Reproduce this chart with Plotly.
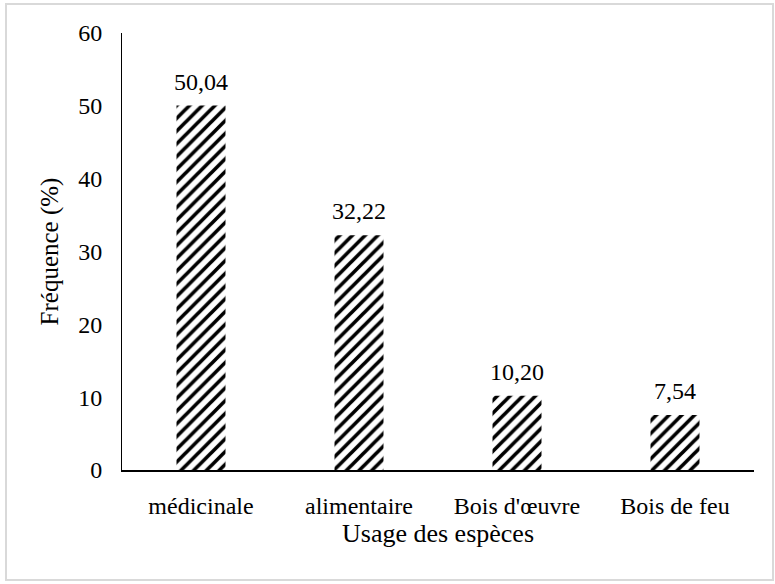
import plotly.graph_objects as go

categories = ["médicinale", "alimentaire", "Bois d'œuvre", "Bois de feu"]
frequences = [50.04, 32.22, 10.20, 7.54]
y_ticks = [0, 10, 20, 30, 40, 50, 60]

W, H = 775, 584
L, R, T, B = 122, 21, 33, 114
pw, ph = W - L - R, H - T - B

serif = "Liberation Serif"

fig = go.Figure(
    go.Bar(
        x=categories,
        y=frequences,
        width=0.31,
        marker=dict(
            color="white",
            line=dict(width=0),
            pattern=dict(shape="/", fgcolor="black", bgcolor="white",
                         fgopacity=1, size=9, solidity=0.4),
        ),
        hoverinfo="skip",
    )
)

# value labels above each bar
for c, v in zip(categories, frequences):
    fig.add_annotation(
        x=c, y=v, text=f"{v:.2f}".replace(".", ","),
        showarrow=False, yanchor="bottom", yshift=9,
        font=dict(family=serif, size=24, color="black"),
    )

# light frame around the whole figure
fig.add_shape(
    type="rect", xref="paper", yref="paper",
    x0=(6 - L) / pw, x1=(773 - L) / pw,
    y0=(H - B - 580) / ph, y1=(H - B - 4) / ph,
    line=dict(color="#d9d9d9", width=2), layer="below",
)

fig.update_layout(
    width=W, height=H,
    margin=dict(l=L, r=R, t=T, b=B),
    paper_bgcolor="white", plot_bgcolor="white",
    showlegend=False,
    font=dict(family=serif, color="black", size=24),
    xaxis=dict(
        showline=True, linecolor="black", linewidth=2,
        ticks="", showgrid=False,
        tickfont=dict(family=serif, size=24), ticklabelstandoff=13,
        title=dict(text="Usage des espèces", font=dict(family=serif, size=26), standoff=5),
    ),
    yaxis=dict(
        range=[0, 60], tickvals=y_ticks,
        showline=True, linecolor="black", linewidth=1,
        ticks="", showgrid=False, zeroline=False,
        tickfont=dict(family=serif, size=24), ticklabelstandoff=14,
        title=dict(text="Fréquence (%)", font=dict(family=serif, size=25), standoff=12),
    ),
)

fig.write_html("out.html")
